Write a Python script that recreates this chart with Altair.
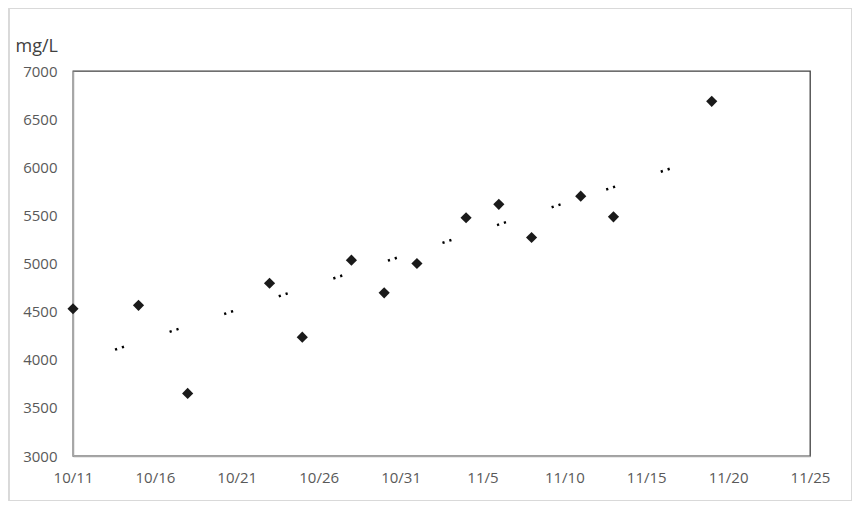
import altair as alt
import pandas as pd

# ---- data ----
dates = ["2023-10-11", "2023-10-15", "2023-10-18", "2023-10-23", "2023-10-25",
         "2023-10-28", "2023-10-30", "2023-11-01", "2023-11-04", "2023-11-06",
         "2023-11-08", "2023-11-11", "2023-11-13", "2023-11-19"]
values = [4530, 4565, 3650, 4795, 4235, 5035, 4695, 5000, 5475, 5615,
          5270, 5700, 5485, 6685]

x_ticks = [(10, 11), (10, 16), (10, 21), (10, 26), (10, 31), (11, 5),
           (11, 10), (11, 15), (11, 20), (11, 25)]
y_ticks = [3000, 3500, 4000, 4500, 5000, 5500, 6000, 6500, 7000]
y_title = "mg/L"

df = pd.DataFrame({"date": dates, "value": values})

x_vals = [alt.DateTime(year=2023, month=m, date=d, utc=True) for m, d in x_ticks]
x_scale = alt.Scale(type="utc", domain=[x_vals[0], x_vals[-1]], nice=False)
y_scale = alt.Scale(domain=[y_ticks[0], y_ticks[-1]], nice=False, zero=False)

FONT = "Open Sans"

x_axis = alt.Axis(values=x_vals, labelExpr="utcFormat(datum.value, '%-m/%-d')",
                  title=None, grid=False, ticks=False, labelPadding=14,
                  labelFont=FONT, labelFontSize=15, labelColor="#595959",
                  domainColor="#a6a6a6", domainWidth=1.5, labelFlush=False)
y_axis = alt.Axis(values=y_ticks, format="d", title=y_title, grid=False,
                  ticks=False, labelPadding=16, labelFont=FONT, labelFontSize=15,
                  labelColor="#595959", domainColor="#a6a6a6", domainWidth=1.5,
                  titleAngle=0, titleAlign="left", titleBaseline="alphabetic",
                  titleX=-58, titleY=-20, titleFont=FONT, titleFontSize=18,
                  titleFontWeight="normal", titleColor="#404040")

base = alt.Chart(df)

frame = base.mark_rect(fill=None, stroke="#d9d9d9", strokeWidth=1).encode(
    x=alt.value(-64), x2=alt.value(778.5), y=alt.value(-62.5), y2=alt.value(429.5)
)

trend = base.transform_calculate(
    t="time(datum.date)"
).transform_regression(
    "t", "value", method="linear"
).mark_line(
    color="#000000", strokeWidth=2.5, strokeDash=[2.2, 5, 2.2, 48],
    strokeDashOffset=13.2
).encode(
    x=alt.X("t:T", scale=x_scale, axis=x_axis),
    y=alt.Y("value:Q", scale=y_scale, axis=y_axis),
)

points = base.mark_point(shape="diamond", filled=True, size=125,
                         color="#1a1a1a", opacity=1).encode(
    x=alt.X("date:T", scale=x_scale, axis=x_axis),
    y=alt.Y("value:Q", scale=y_scale, axis=y_axis),
)

chart = alt.layer(frame, trend, points).properties(
    width=737, height=385,
    autosize=alt.AutoSizeParams(type="none"),
    padding={"left": 65, "top": 63, "right": 42, "bottom": 46},
).configure_view(
    stroke="#404040", strokeWidth=1.3
)

chart.save("out.html", embed_options={"renderer": "svg", "actions": False})
